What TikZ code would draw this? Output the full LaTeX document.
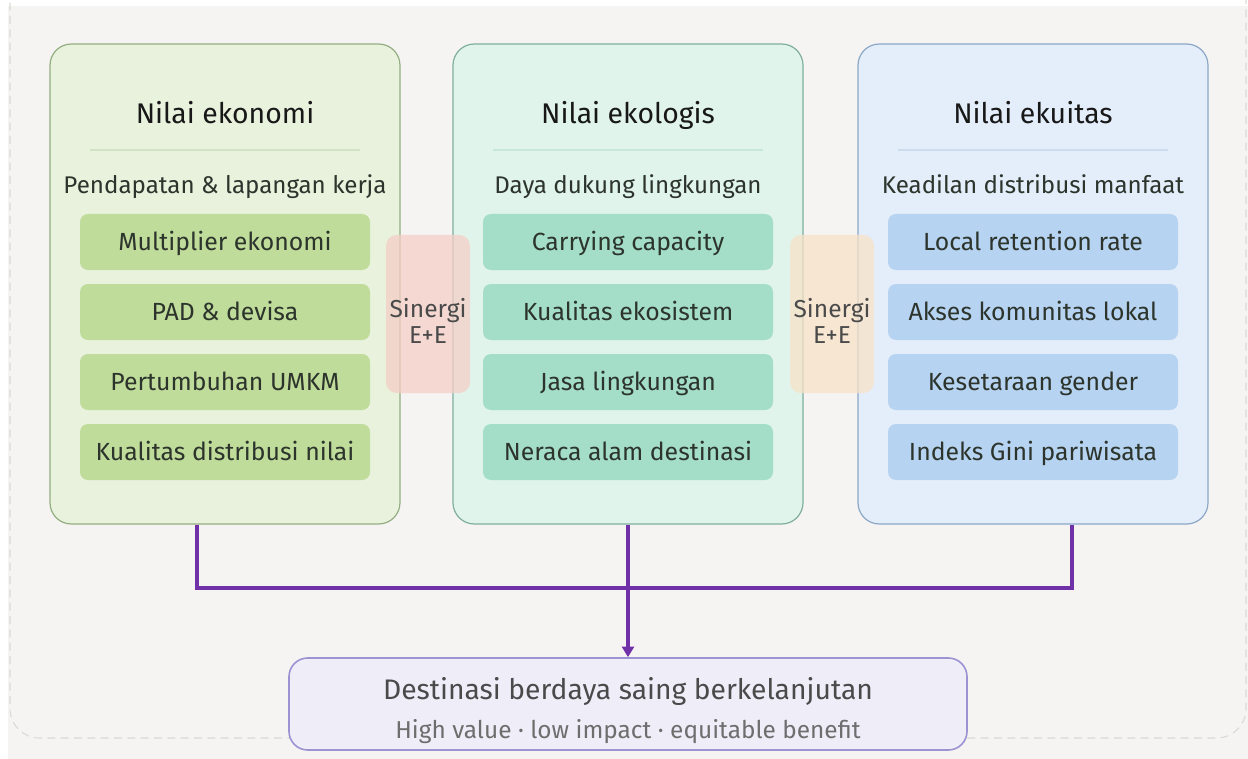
\documentclass[tikz,border=0pt]{standalone}
\usepackage{fontspec}
\setmainfont{Fira Sans}
\usetikzlibrary{arrows.meta}
\definecolor{bggrey}{HTML}{F5F4F3}
\definecolor{dashgrey}{HTML}{DCD9D5}
\definecolor{gfill}{HTML}{E8F2DD}
\definecolor{gdraw}{HTML}{93AE80}
\definecolor{gitem}{HTML}{BFDC9B}
\definecolor{gsep}{HTML}{D3E3C6}
\definecolor{tfill}{HTML}{E0F4EC}
\definecolor{tdraw}{HTML}{7FAE9E}
\definecolor{titem}{HTML}{A4DEC9}
\definecolor{tsep}{HTML}{C9E6DB}
\definecolor{bfill}{HTML}{E4EEFA}
\definecolor{bdraw}{HTML}{8CA8C6}
\definecolor{bitem}{HTML}{B6D3F1}
\definecolor{bsep}{HTML}{CDDCEC}
\definecolor{pinkbox}{HTML}{F5CFC6}
\definecolor{orangebox}{HTML}{F8E2C6}
\definecolor{purp}{HTML}{7030A8}
\definecolor{dfill}{HTML}{EEEDF8}
\definecolor{ddraw}{HTML}{9C93D2}
\definecolor{txtdark}{HTML}{181818}
\definecolor{txtmid}{HTML}{2C342C}
\definecolor{txtgrey}{HTML}{4A4A4A}
\definecolor{txtlight}{HTML}{6E6E6E}
\tikzset{
  panel/.style={draw, line width=0.9pt, rounded corners=16pt, minimum width=262.5pt, minimum height=360pt, inner sep=0pt},
  item/.style={rounded corners=6pt, minimum width=217.5pt, minimum height=42pt, inner sep=0pt, text height=14pt, text depth=1.5pt, text=txtmid, font=\fontsize{18.6}{21}\selectfont},
  ptitle/.style={anchor=base, text=txtdark, font=\fontsize{21.3}{25}\selectfont},
  psub/.style={anchor=base, text=txtmid, font=\fontsize{18.1}{21}\selectfont},
  synbox/.style={rounded corners=8pt, minimum width=63pt, minimum height=118.5pt, inner sep=0pt, fill opacity=0.75},
  syntext/.style={text=txtgrey, align=center, font=\fontsize{18.4}{19.5}\selectfont},
  conn/.style={draw=purp, line width=2.3pt},
  sep/.style={line width=1.2pt}
}
\begin{document}
\begin{tikzpicture}[x=0.75pt,y=-0.75pt]
\useasboundingbox (0,0) rectangle (1248,759);
\fill[white] (0,0) rectangle (1248,759);
\fill[bggrey] (8,6) rectangle (1248,759);
\draw[dashgrey, dashed, line width=0.8pt, dash pattern=on 6pt off 4pt, rounded corners=22pt] (10,-40) rectangle (1246,738);

% panels
\node[panel, fill=gfill, draw=gdraw] (eco) at (225,284) {};
\node[panel, fill=tfill, draw=tdraw] (ecl) at (628,284) {};
\node[panel, fill=bfill, draw=bdraw] (equ) at (1033,284) {};

% titles
\node[ptitle] (ecoT) at (225,124) {Nilai ekonomi};
\node[ptitle] (eclT) at (628,124) {Nilai ekologis};
\node[ptitle] (equT) at (1033,124) {Nilai ekuitas};
\draw[sep, gsep] (90,150) -- (360,150);
\draw[sep, tsep] (493,150) -- (763,150);
\draw[sep, bsep] (898,150) -- (1168,150);
\node[psub] (ecoS) at (225,194) {Pendapatan \& lapangan kerja};
\node[psub] (eclS) at (628,194) {Daya dukung lingkungan};
\node[psub] (equS) at (1033,194) {Keadilan distribusi manfaat};

% items
\node[item, fill=gitem] (g1) at (225,242) {Multiplier ekonomi};
\node[item, fill=gitem] (g2) at (225,312) {PAD \& devisa};
\node[item, fill=gitem] (g3) at (225,382) {Pertumbuhan UMKM};
\node[item, fill=gitem] (g4) at (225,452) {Kualitas distribusi nilai};
\node[item, fill=titem] (t1) at (628,242) {Carrying capacity};
\node[item, fill=titem] (t2) at (628,312) {Kualitas ekosistem};
\node[item, fill=titem] (t3) at (628,382) {Jasa lingkungan};
\node[item, fill=titem] (t4) at (628,452) {Neraca alam destinasi};
\node[item, fill=bitem] (b1) at (1033,242) {Local retention rate};
\node[item, fill=bitem] (b2) at (1033,312) {Akses komunitas lokal};
\node[item, fill=bitem] (b3) at (1033,382) {Kesetaraan gender};
\node[item, fill=bitem] (b4) at (1033,452) {Indeks Gini pariwisata};

% synergy
\node[synbox, fill=pinkbox] (syn1) at (428,314) {};
\node[syntext] (syn1t) at (428,321) {Sinergi\\E+E};
\node[synbox, fill=orangebox] (syn2) at (832,314) {};
\node[syntext] (syn2t) at (832,321) {Sinergi\\E+E};

% destination
\node[draw=ddraw, fill=dfill, line width=1.2pt, rounded corners=14pt, minimum width=508.5pt, minimum height=69pt, inner sep=0pt] (dest) at (628,704) {};
\node[anchor=base, text=txtgrey, font=\fontsize{21.2}{25}\selectfont] (destT) at (628,699) {Destinasi berdaya saing berkelanjutan};
\node[anchor=base, text=txtlight, font=\fontsize{18.3}{21}\selectfont] (destS) at (628,738) {High value · low impact · equitable benefit};

% connectors
\coordinate (join) at (628,588);
\draw[conn] ([xshift=-21pt]eco.south) |- (join) -| ([xshift=29.25pt]equ.south);
\draw[conn, -{Triangle[width=9pt,length=8pt]}] (ecl.south) -- (dest.north);
\end{tikzpicture}
\end{document}
